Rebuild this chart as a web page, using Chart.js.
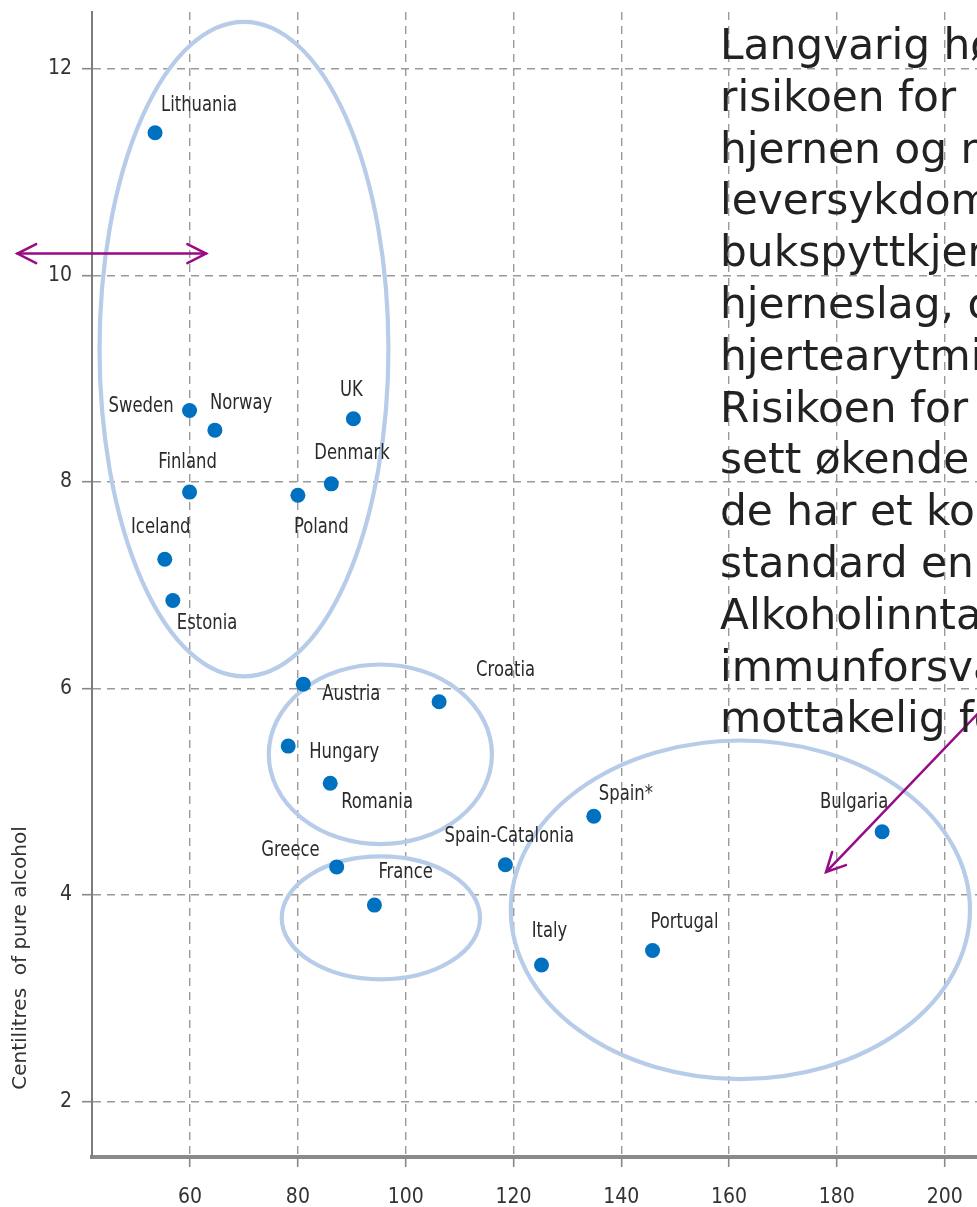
<!DOCTYPE html>
<html>
<head>
<meta charset="utf-8">
<script src="https://cdn.jsdelivr.net/npm/chart.js@4"></script>
<style>
  html, body { margin: 0; padding: 0; background: #fff; overflow: hidden; }
  #wrap { width: 977px; height: 1207px; }
</style>
</head>
<body>
<div id="wrap"><canvas id="chart" width="977" height="1207"></canvas></div>
<script>
// countries, litres per year (x) and centilitres of pure alcohol (y)
const countries = ['Lithuania', 'Sweden', 'Norway', 'UK', 'Denmark', 'Finland', 'Poland', 'Iceland', 'Estonia',
  'Austria', 'Croatia', 'Hungary', 'Romania', 'Greece', 'France', 'Spain-Catalonia', 'Spain*', 'Italy', 'Portugal', 'Bulgaria'];
const xValues = [53.5, 59.9, 64.6, 90.3, 86.2, 59.9, 80.0, 55.3, 56.8,
  81.0, 106.2, 78.2, 86.0, 87.2, 94.2, 118.5, 134.9, 125.2, 145.8, 188.4];
const yValues = [11.38, 8.69, 8.50, 8.61, 7.98, 7.90, 7.87, 7.25, 6.85,
  6.04, 5.87, 5.44, 5.08, 4.27, 3.90, 4.29, 4.76, 3.32, 3.46, 4.61];

const xTicks = [60, 80, 100, 120, 140, 160, 180, 200];
const yTicks = [2, 4, 6, 8, 10, 12];
const yTitle = 'Centilitres  of pure alcohol';

// groups circled on the chart, in data units: centre x, centre y, radius x, radius y
const groupRings = [
  [70.0, 9.285, 26.8, 3.17],
  [95.3, 5.36, 20.7, 0.87],
  [95.4, 3.776, 18.4, 0.595],
  [162.1, 3.854, 42.6, 1.64]
];
// arrows in data units: from [x, y] to [x, y], both ends or not
const arrows = [
  { from: [27.96, 10.21], to: [62.97, 10.21], both: true },
  { from: [210.3, 5.98], to: [178.0, 4.22], both: false }
];

// the note runs off the right edge of the picture
const noteLines = [
  'Langvarig høyt alkoholforbruk øker',
  'risikoen for',
  'hjernen og nervesystemet,',
  'leversykdommer, betennelse i',
  'bukspyttkjertelen, kreft,',
  'hjerneslag, og',
  'hjertearytmier.',
  'Risikoen for',
  'sett økende',
  'de har et konsum på mer enn',
  'standard en',
  'Alkoholinntak svekker',
  'immunforsvaret og gjør en mer',
  'mottakelig for infeksjoner.'
];

// where each country name sits relative to its dot
const labelPlace = [
  ['left', 6, -28], ['right', -16, -4], ['left', -5, -27], ['center', -2, -29], ['left', -17, -31],
  ['center', -2, -30], ['left', -4, 32], ['center', -4, -32], ['left', 4, 23],
  ['left', 19, 10], ['left', 37, -31], ['left', 21, 6], ['left', 11, 19], ['right', -17, -17],
  ['left', 4, -33], ['center', 4, -29], ['left', 5, -22], ['center', 8, -34], ['left', -2, -28], ['center', -28, -29]
];

const narrow = "'Liberation Sans Narrow', 'DejaVu Sans Condensed', 'Roboto Condensed', sans-serif";
const purple = '#980b84';

const ringsPlugin = {
  id: 'rings',
  beforeDatasetsDraw(chart) {
    const { ctx, scales: { x, y } } = chart;
    ctx.save();
    ctx.strokeStyle = '#b7cce9';
    ctx.lineWidth = 4.2;
    groupRings.forEach(([cx, cy, rx, ry]) => {
      const px = x.getPixelForValue(cx), py = y.getPixelForValue(cy);
      const prx = Math.abs(x.getPixelForValue(cx + rx) - px);
      const pry = Math.abs(y.getPixelForValue(cy + ry) - py);
      ctx.beginPath();
      ctx.ellipse(px, py, prx, pry, 0, 0, Math.PI * 2);
      ctx.stroke();
    });
    ctx.restore();
  }
};

const labelsPlugin = {
  id: 'countryLabels',
  afterDatasetsDraw(chart) {
    const { ctx } = chart;
    const pts = chart.getDatasetMeta(0).data;
    pts.forEach((p, i) => {
      const [align, dx, dy] = labelPlace[i];
      ctx.save();
      ctx.translate(p.x + dx, p.y + dy);
      ctx.scale(0.83, 1);   // squeeze to look like the condensed face of the original
      ctx.font = '22px ' + narrow;
      ctx.fillStyle = '#2b2b2b';
      ctx.textBaseline = 'middle';
      ctx.textAlign = align;
      ctx.fillText(countries[i], 0, 0);
      ctx.restore();
    });
  }
};

function head(ctx, tx, ty, fx, fy) {
  const a = Math.atan2(ty - fy, tx - fx);
  const len = 21, spread = 0.47;
  ctx.beginPath();
  ctx.moveTo(tx - len * Math.cos(a - spread), ty - len * Math.sin(a - spread));
  ctx.lineTo(tx, ty);
  ctx.lineTo(tx - len * Math.cos(a + spread), ty - len * Math.sin(a + spread));
  ctx.stroke();
}

const overlayPlugin = {
  id: 'overlay',
  afterDraw(chart) {
    const { ctx, scales: { x, y } } = chart;
    ctx.save();
    // y axis title, sits low on the axis like the original
    ctx.translate(21, 958);
    ctx.rotate(-Math.PI / 2);
    ctx.font = "20px 'DejaVu Sans', sans-serif";
    ctx.fillStyle = '#333';
    ctx.textAlign = 'center';
    ctx.textBaseline = 'middle';
    ctx.fillText(yTitle, 0, 0);
    ctx.restore();

    ctx.save();
    ctx.strokeStyle = purple;
    ctx.lineWidth = 2.5;
    ctx.lineCap = 'round';
    arrows.forEach(a => {
      const fx = x.getPixelForValue(a.from[0]), fy = y.getPixelForValue(a.from[1]);
      const tx = x.getPixelForValue(a.to[0]), ty = y.getPixelForValue(a.to[1]);
      ctx.beginPath();
      ctx.moveTo(fx, fy);
      ctx.lineTo(tx, ty);
      ctx.stroke();
      head(ctx, tx, ty, fx, fy);
      if (a.both) head(ctx, fx, fy, tx, ty);
    });
    ctx.restore();

    ctx.save();
    ctx.font = "42.3px 'DejaVu Sans', Verdana, sans-serif";
    ctx.fillStyle = '#222';
    ctx.textAlign = 'left';
    ctx.textBaseline = 'alphabetic';
    noteLines.forEach((line, i) => ctx.fillText(line, 720, 59 + i * 51.8));
    ctx.restore();
  }
};

const gridStyle = {
  color: '#9a9a9a',
  lineWidth: 1.4,
  tickLength: 10,
  tickColor: '#888',
  tickBorderDash: [],
  tickWidth: 1.6
};

new Chart(document.getElementById('chart'), {
  type: 'scatter',
  data: {
    datasets: [{
      data: xValues.map((v, i) => ({ x: v, y: yValues[i] })),
      backgroundColor: '#0070c0',
      borderWidth: 0,
      pointRadius: 7.5,
      pointHoverRadius: 7.5
    }]
  },
  options: {
    responsive: false,
    devicePixelRatio: 1,
    animation: false,
    events: [],
    layout: { autoPadding: false, padding: { top: 12, left: 0, right: 0, bottom: 0 } },
    plugins: { legend: { display: false }, tooltip: { enabled: false } },
    scales: {
      x: {
        type: 'linear',
        min: 41.8,
        max: 206,
        afterBuildTicks: s => { s.ticks = xTicks.map(v => ({ value: v })); },
        afterFit: s => { s.height = 50; s.paddingLeft = 0; s.paddingRight = 0; },
        grid: gridStyle,
        border: { color: '#8a8a8a', width: 4, dash: [8, 6] },
        ticks: { font: { family: narrow, size: 21 }, color: '#333', padding: 18, maxRotation: 0 }
      },
      y: {
        type: 'linear',
        min: 1.46,
        max: 12.55,
        afterBuildTicks: s => { s.ticks = yTicks.map(v => ({ value: v })); },
        afterFit: s => { s.width = 92; s.paddingTop = 0; s.paddingBottom = 0; },
        grid: gridStyle,
        border: { color: '#7d7d7d', width: 2, dash: [8, 6] },
        ticks: { font: { family: narrow, size: 21 }, color: '#333', padding: 10 }
      }
    }
  },
  plugins: [ringsPlugin, labelsPlugin, overlayPlugin]
});
</script>
</body>
</html>
